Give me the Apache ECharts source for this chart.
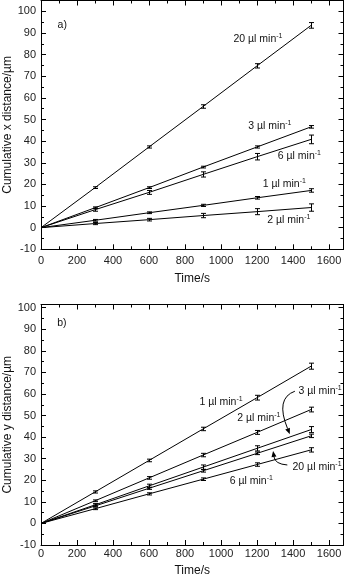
<!DOCTYPE html>
<html>
<head>
<meta charset="utf-8">
<script src="https://cdn.jsdelivr.net/npm/echarts@6/dist/echarts.min.js"></script>
<style>
html,body{margin:0;padding:0;background:#fff;}
#c{width:347px;height:577px;}
</style>
</head>
<body>
<div id="c"></div>
<script>
// ---- data ----
const times = [0, 300, 600, 900, 1200, 1500];
const xTickLabels = ['0','200','400','600','800','1000','1200','1400','1600'];
const yTickLabels = ['-10','0','10','20','30','40','50','60','70','80','90','100'];

// Panel a: cumulative x distance (µm)
const ax20 = [0, 18.5, 37.3, 56.0, 74.8, 93.5];
const ax20err = [0, 0.4, 0.5, 0.8, 1.0, 1.3];
const ax3 = [0, 9.2, 18.5, 28.0, 37.3, 46.6];
const ax3err = [0, 0.4, 0.4, 0.4, 0.5, 0.6];
const ax6 = [0, 8.3, 16.3, 24.6, 32.8, 40.8];
const ax6err = [0, 0.7, 0.9, 1.2, 1.5, 2.0];
const ax1 = [0, 3.4, 6.9, 10.3, 13.8, 17.2];
const ax1err = [0, 0.4, 0.4, 0.5, 0.6, 0.8];
const ax2 = [0, 1.9, 3.7, 5.6, 7.4, 9.3];
const ax2err = [0, 0.5, 0.6, 1.0, 1.4, 1.7];

// Panel b: cumulative y distance (µm)
const by1 = [0, 14.6, 29.2, 43.8, 58.3, 72.9];
const by1err = [0, 0.5, 0.6, 0.8, 1.1, 1.4];
const by2 = [0, 10.5, 21.1, 31.7, 42.2, 52.8];
const by2err = [0, 0.4, 0.6, 0.8, 0.9, 1.1];
const by3 = [0, 8.6, 17.4, 26.1, 34.8, 43.5];
const by3err = [0, 0.6, 0.8, 1.0, 1.2, 1.4];
const by20 = [0, 8.1, 16.3, 24.4, 32.5, 40.6];
const by20err = [0, 0.4, 0.5, 0.6, 0.6, 0.8];
const by6 = [0, 6.8, 13.7, 20.5, 27.3, 34.1];
const by6err = [0, 0.4, 0.5, 0.6, 0.8, 1.0];

// label texts
const flowLabels = ['1 µl min', '2 µl min', '3 µl min', '6 µl min', '20 µl min'];

// annotation anchor points (data coords) [x, y, textIndex]
const annotA = [[1205, 87.2, 4], [1271, 46.8, 2], [1435, 32.9, 3], [1351, 20.1, 0], [1376, 3.6, 1]];
const annotB = [[1000, 56.3, 0], [1210, 48.9, 1], [1550, 61.3, 2], [1533, 26.2, 4], [1168, 19.7, 3]];
// arrows in panel b: [startX, startY, ctrlX, ctrlY, tipX, tipY]
const arrowsB = [[1410, 61.3, 1300, 58, 1382, 41.4], [1368, 27.1, 1300, 27.5, 1289, 33.6]];

const FONT = '"Liberation Sans", Arial, Helvetica, sans-serif';
const XMAX = 1680;

function xAxes(gi, labelMargin, nameGap) {
  const base = {
    gridIndex: gi, type: 'value', min: 0, max: XMAX, interval: 200,
    splitLine: {show: false},
    axisLine: {show: true, onZero: false, lineStyle: {color: '#000', width: 1}},
    axisTick: {show: true, inside: true, length: 5, lineStyle: {color: '#000'}},
    minorTick: {show: true, splitNumber: 2, length: 3, lineStyle: {color: '#000'}},
  };
  return [
    Object.assign({}, base, {
      position: 'bottom',
      name: 'Time/s', nameLocation: 'middle', nameGap: nameGap, nameMoveOverlap: false,
      nameTextStyle: {color: '#111', fontSize: 12, fontFamily: FONT},
      axisLabel: {show: true, color: '#222', fontSize: 11, fontFamily: FONT, margin: labelMargin,
        showMaxLabel: false,
        formatter: v => { const i = xTickLabels.indexOf(String(v)); return i >= 0 ? xTickLabels[i] : ''; }}
    }),
    Object.assign({}, base, {position: 'top', axisLabel: {show: false}})
  ];
}
function yAxes(gi, ymax, title) {
  const base = {
    gridIndex: gi, type: 'value', min: -10, max: ymax, interval: 10,
    splitLine: {show: false},
    axisLine: {show: true, onZero: false, lineStyle: {color: '#000', width: 1}},
    axisTick: {show: true, inside: true, length: 5, lineStyle: {color: '#000'}},
    minorTick: {show: true, splitNumber: 2, length: 3, lineStyle: {color: '#000'}},
  };
  return [
    Object.assign({}, base, {
      position: 'left',
      name: title, nameLocation: 'middle', nameGap: 27, nameMoveOverlap: false,
      nameTextStyle: {color: '#111', fontSize: 12, fontFamily: FONT},
      axisLabel: {show: true, color: '#222', fontSize: 11, fontFamily: FONT, margin: 5,
        showMaxLabel: false,
        formatter: v => { const i = yTickLabels.indexOf(String(v)); return i >= 0 ? yTickLabels[i] : ''; }}
    }),
    Object.assign({}, base, {position: 'right', axisLabel: {show: false}})
  ];
}

function lineSeries(xi, yi, vals) {
  return {
    type: 'line', xAxisIndex: xi, yAxisIndex: yi,
    data: times.map((t, i) => [t, vals[i]]),
    symbol: 'none', lineStyle: {color: '#000', width: 1}, silent: true, animation: false, z: 3
  };
}
function errSeries(xi, yi, vals, errs) {
  return {
    type: 'custom', xAxisIndex: xi, yAxisIndex: yi, silent: true, animation: false, z: 4,
    data: times.slice(1).map((t, k) => [t, vals[k + 1] - errs[k + 1], vals[k + 1] + errs[k + 1], vals[k+1]]),
    renderItem: function (params, api) {
      const lo = api.coord([api.value(0), api.value(1)]);
      const hi = api.coord([api.value(0), api.value(2)]);
      const x = Math.round(lo[0]) + 0.5;
      const cw = 2.5;
      const st = {stroke: '#000', lineWidth: 1};
      return {type: 'group', children: [
        {type: 'line', shape: {x1: x, y1: lo[1], x2: x, y2: hi[1]}, style: st},
        {type: 'line', shape: {x1: x - cw, y1: lo[1], x2: x + cw, y2: lo[1]}, style: st},
        {type: 'line', shape: {x1: x - cw, y1: hi[1], x2: x + cw, y2: hi[1]}, style: st}
      ]};
    }
  };
}
function textSeries(xi, yi, items) {
  return {
    type: 'custom', xAxisIndex: xi, yAxisIndex: yi, silent: true, animation: false, z: 6,
    data: items.map(t => [t[0], t[1]]),
    renderItem: function (params, api) {
      const p = api.coord([api.value(0), api.value(1)]);
      const t = items[params.dataIndex];
      return {type: 'text', x: p[0], y: p[1], style: {
        text: typeof t[2] === 'number' ? flowLabels[t[2]] + '{s|-1}' : t[2],
        align: 'center', verticalAlign: 'middle',
        fill: '#111', fontSize: 10.5, fontFamily: FONT,
        rich: {s: {fontSize: 7, fontFamily: FONT, fill: '#111', verticalAlign: 'top', padding: [0, 0, 6, 0]}}
      }};
    }
  };
}
function arrowSeries(xi, yi, items) {
  return {
    type: 'custom', xAxisIndex: xi, yAxisIndex: yi, silent: true, animation: false, z: 5,
    data: items,
    renderItem: function (params, api) {
      const s = api.coord([api.value(0), api.value(1)]);
      const c = api.coord([api.value(2), api.value(3)]);
      const e = api.coord([api.value(4), api.value(5)]);
      const dx = e[0] - c[0], dy = e[1] - c[1];
      const L = Math.sqrt(dx * dx + dy * dy);
      const ux = dx / L, uy = dy / L;
      const hl = 6, hw = 2.5;
      const bx = e[0] - ux * hl, by = e[1] - uy * hl;
      return {type: 'group', children: [
        {type: 'bezierCurve', shape: {x1: s[0], y1: s[1], cpx1: c[0], cpy1: c[1], x2: bx, y2: by},
          style: {stroke: '#000', lineWidth: 1, fill: null}},
        {type: 'polygon', shape: {points: [[e[0], e[1]], [bx - uy * hw, by + ux * hw], [bx + uy * hw, by - ux * hw]]},
          style: {fill: '#000'}}
      ]};
    }
  };
}

const chart = echarts.init(document.getElementById('c'), null, {renderer: 'canvas'});
const option = {
  backgroundColor: '#fff',
  animation: false,
  grid: [
    {left: 41, top: 0.5, width: 302.5, height: 248.8, show: false, containLabel: false, outerBoundsMode: 'none'},
    {left: 41, top: 304.5, width: 302.5, height: 240.5, show: false, containLabel: false, outerBoundsMode: 'none'}
  ],
  xAxis: [].concat(xAxes(0, 6, 23), xAxes(1, 3, 20)),
  yAxis: [].concat(yAxes(0, 105, 'Cumulative x distance/µm'), yAxes(1, 101.5, 'Cumulative y distance/µm')),
  series: [
    lineSeries(0, 0, ax20), errSeries(0, 0, ax20, ax20err),
    lineSeries(0, 0, ax3), errSeries(0, 0, ax3, ax3err),
    lineSeries(0, 0, ax6), errSeries(0, 0, ax6, ax6err),
    lineSeries(0, 0, ax1), errSeries(0, 0, ax1, ax1err),
    lineSeries(0, 0, ax2), errSeries(0, 0, ax2, ax2err),
    textSeries(0, 0, annotA.concat([[118, 93.5, 'a)']])),
    lineSeries(2, 2, by1), errSeries(2, 2, by1, by1err),
    lineSeries(2, 2, by2), errSeries(2, 2, by2, by2err),
    lineSeries(2, 2, by3), errSeries(2, 2, by3, by3err),
    lineSeries(2, 2, by20), errSeries(2, 2, by20, by20err),
    lineSeries(2, 2, by6), errSeries(2, 2, by6, by6err),
    textSeries(2, 2, annotB.concat([[116, 92.8, 'b)']])),
    arrowSeries(2, 2, arrowsB)
  ]
};
chart.setOption(option);
</script>
</body>
</html>
